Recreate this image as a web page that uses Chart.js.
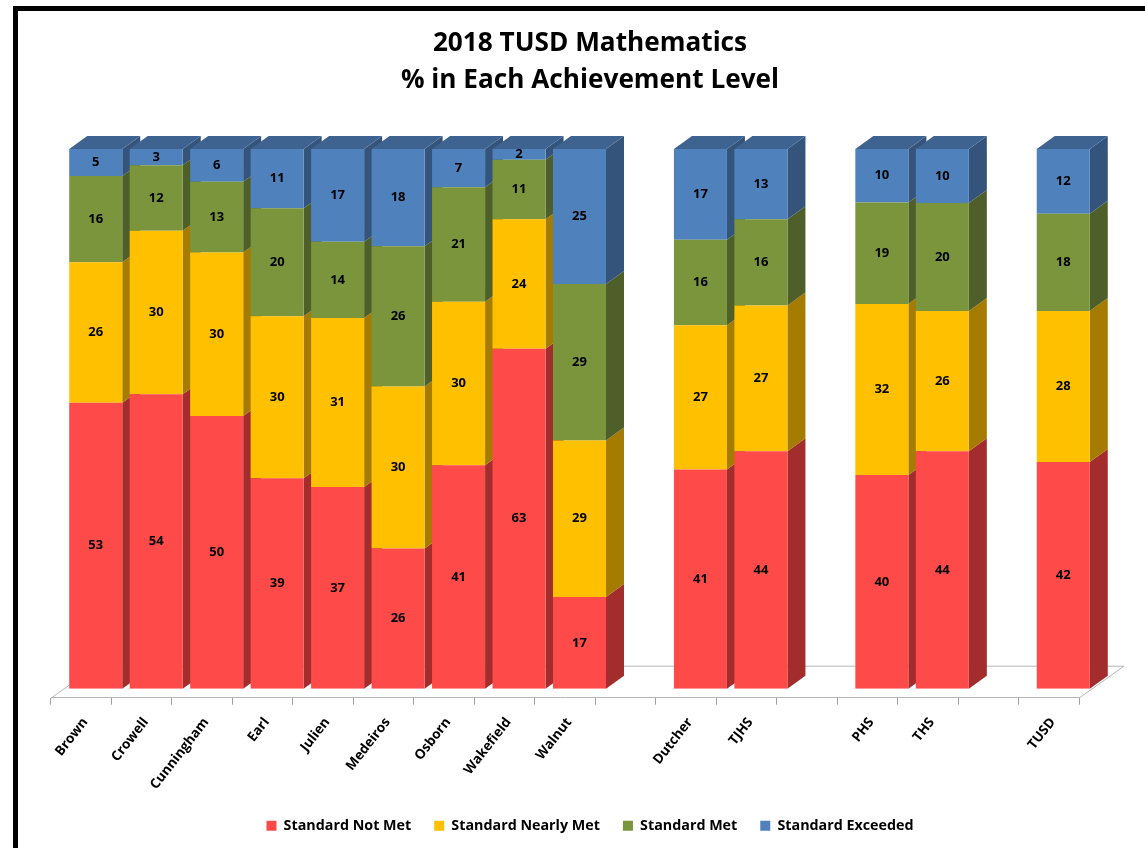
<!DOCTYPE html>
<html>
<head>
<meta charset="utf-8">
<style>
html,body{margin:0;padding:0;width:1145px;height:848px;overflow:hidden;background:#fff}
#frame{position:absolute;left:13px;top:6px;width:1132px;height:842px;border-left:5px solid #000;border-top:5px solid #000;box-sizing:border-box}
#wrap{position:absolute;left:18px;top:11px;width:1144px;height:837px}
</style>
<script src="https://cdn.jsdelivr.net/npm/chart.js@4"></script>
</head>
<body>
<div id="frame"></div>
<div id="wrap"><canvas id="c" width="1144" height="837"></canvas></div>
<script>
const categories = ["Brown","Crowell","Cunningham","Earl","Julien","Medeiros","Osborn","Wakefield","Walnut","","Dutcher","TJHS","","PHS","THS","","TUSD"];
const notMet    = [53,54,50,39,37,26,41,63,17,null,41,44,null,40,44,null,42];
const nearlyMet = [26,30,30,30,31,30,30,24,29,null,27,27,null,32,26,null,28];
const met       = [16,12,13,20,14,26,21,11,29,null,16,16,null,19,20,null,18];
const exceeded  = [ 5, 3, 6,11,17,18, 7, 2,25,null,17,13,null,10,10,null,12];
const seriesNames = ["Standard Not Met","Standard Nearly Met","Standard Met","Standard Exceeded"];
const frontColors = ["#FF4A4A","#FFC000","#7A953C","#4F81BD"];
const sideColors  = ["#A32C2C","#A67C00","#4F5F2A","#34547B"];
const topColor = "#3E6390";
const titleLines = ["2018 TUSD Mathematics","% in Each Achievement Level"];

const rawSeries = [notMet,nearlyMet,met,exceeded];
// 100% stacked: each column is normalised to its own total
const totals = categories.map((_,i)=>rawSeries.reduce((s,a)=>s+(a[i]||0),0));
const percent = a => a.map((v,i)=> v==null ? null : v/totals[i]*100);

const SHIFT_X=14.5, SHIFT_Y=-9, DEPTH_X=18, DEPTH_Y=-13, FLOOR_X=45, FLOOR_Y=-32;

const bars3d = {
  id:'bars3d',
  beforeDatasetsDraw(chart){
    const {ctx,chartArea:a}=chart;
    ctx.save();
    ctx.strokeStyle='#b5b5b5'; ctx.lineWidth=1;
    ctx.beginPath();
    ctx.moveTo(a.left,a.bottom+.5); ctx.lineTo(a.left+FLOOR_X,a.bottom+FLOOR_Y+.5);
    ctx.lineTo(a.right+FLOOR_X,a.bottom+FLOOR_Y+.5); ctx.lineTo(a.right,a.bottom+.5);
    ctx.stroke();
    ctx.translate(SHIFT_X,SHIFT_Y);
    categories.forEach((_,i)=>{
      chart.data.datasets.forEach((ds,d)=>{
        const el=chart.getDatasetMeta(d).data[i];
        if(ds.data[i]==null) return;
        const r=el.x+el.width/2;
        ctx.fillStyle=sideColors[d];
        ctx.beginPath();
        ctx.moveTo(r,el.y);ctx.lineTo(r+DEPTH_X,el.y+DEPTH_Y);
        ctx.lineTo(r+DEPTH_X,el.base+DEPTH_Y);ctx.lineTo(r,el.base);ctx.closePath();ctx.fill();
        if(d===chart.data.datasets.length-1){
          const l=el.x-el.width/2;
          ctx.fillStyle=topColor;
          ctx.beginPath();
          ctx.moveTo(l,el.y);ctx.lineTo(l+DEPTH_X,el.y+DEPTH_Y);
          ctx.lineTo(r+DEPTH_X,el.y+DEPTH_Y);ctx.lineTo(r,el.y);ctx.closePath();ctx.fill();
        }
      });
    });
    // keep the translation active for the library's own bar drawing
  },
  afterDatasetsDraw(chart){
    const {ctx}=chart;
    ctx.font='bold 13px "Open Sans"';
    ctx.fillStyle='#000';ctx.textAlign='center';ctx.textBaseline='middle';
    chart.data.datasets.forEach((ds,d)=>{
      chart.getDatasetMeta(d).data.forEach((el,i)=>{
        if(rawSeries[d][i]==null) return;
        ctx.fillText(String(rawSeries[d][i]),el.x,(el.y+el.base)/2);
      });
    });
    ctx.restore();
  }
};

const hiddenAxis = (position,width)=>({
  position,display:true,stacked:true,min:0,max:100,
  ticks:{display:false},grid:{display:false},border:{display:false},
  afterFit(s){s.width=width;}
});

new Chart(document.getElementById('c'),{
  type:'bar',
  data:{
    labels:categories,
    datasets:rawSeries.map((a,d)=>({
      label:seriesNames[d],
      data:percent(a),
      backgroundColor:frontColors[d],
      borderWidth:0,
      barPercentage:0.877,
      categoryPercentage:1
    }))
  },
  plugins:[bars3d],
  options:{
    responsive:false,
    animation:false,
    layout:{padding:{left:0,right:0,top:14,bottom:5}},
    plugins:{
      tooltip:{enabled:false},
      title:{display:true,text:titleLines,color:'#000',
        font:{family:'"Open Sans"',size:26.2,weight:'bold',lineHeight:1.412},
        padding:{top:0,bottom:59}},
      legend:{display:true,position:'bottom',
        labels:{boxWidth:10,boxHeight:10,padding:23,color:'#000',
          font:{family:'"Open Sans"',size:14.3,weight:'bold'}}}
    },
    scales:{
      x:{stacked:true,offset:true,
        border:{display:true,color:'#b5b5b5'},
        grid:{display:true,drawOnChartArea:false,drawTicks:true,tickLength:7,tickColor:'#a0a0a0',offset:true},
        ticks:{autoSkip:false,maxRotation:52,minRotation:52,color:'#000',padding:10,labelOffset:4,
          font:{family:'"Open Sans"',size:13.5,weight:'bold'}},
        afterFit(s){s.height=98;}
      },
      y:hiddenAxis('left',33),
      yRight:hiddenAxis('right',83)
    }
  }
});
</script>
</body>
</html>
